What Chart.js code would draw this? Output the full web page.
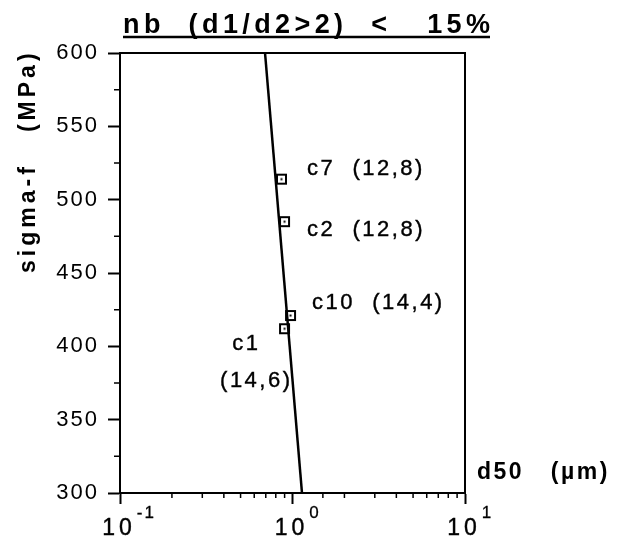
<!DOCTYPE html>
<html>
<head>
<meta charset="utf-8">
<script src="https://cdn.jsdelivr.net/npm/chart.js@4.4.0/dist/chart.umd.min.js"></script>
<style>
  html, body { margin: 0; padding: 0; background: #fff; }
  #wrap { width: 617px; height: 543px; }
</style>
</head>
<body>
<div id="wrap"><canvas id="chart" width="617" height="543"></canvas></div>
<script>
// data
const pointNames = ["c7", "c2", "c10", "c1"];
const pointTags = ["(12,8)", "(12,8)", "(14,4)", "(14,6)"];
const d50Values = [0.863, 0.899, 0.974, 0.899];
const sigmaValues = [514, 485, 421, 412];
const fitD50 = [0.693, 1.135];
const fitSigma = [600, 300];
const xTickPowers = [-1, 0, 1];

const titleText = "nb  (d1/d2>2)  <   15%";
const yTitle = "sigma-f   (MPa)";
const xTitle = "d50   (\u00b5m)";
const FONT = '"Liberation Sans", Arial, Helvetica, sans-serif';

// open square with a dot in the middle
function makeMarker() {
  const c = document.createElement("canvas");
  c.width = 13;
  c.height = 13;
  const g = c.getContext("2d");
  g.strokeStyle = "#000";
  g.lineWidth = 2;
  g.strokeRect(2, 2, 9, 9);
  g.fillStyle = "#000";
  g.fillRect(5.5, 5.5, 2, 2);
  return c;
}

// label placement relative to each point (pixels)
const labelLayout = {
  c7: { dx: 25.5, dy: -10.5, align: "left", inline: true },
  c2: { dx: 22.5, dy: 8.5, align: "left", inline: true },
  c10: { dx: 21.5, dy: -13, align: "left", inline: true },
  c1: { dx: -24, dy: 15, align: "right", inline: false, tagDx: 8, tagDy: 52 },
};

// fill text with a hairline stroke so it reads as heavy as the scan
function heavyText(ctx, txt, x, y, w) {
  ctx.fillText(txt, x, y);
  ctx.lineWidth = w;
  ctx.strokeText(txt, x, y);
}

const decorPlugin = {
  id: "decor",
  beforeDraw(chart) {
    chart.ctx.letterSpacing = "2px";
  },
  afterDraw(chart) {
    const ctx = chart.ctx;
    const area = chart.chartArea;
    const xs = chart.scales.x;
    const ys = chart.scales.y;
    ctx.save();
    ctx.strokeStyle = "#000";
    ctx.fillStyle = "#000";

    // frame
    ctx.lineWidth = 2;
    ctx.strokeRect(area.left, area.top, area.right - area.left, area.bottom - area.top);

    // minor ticks
    ctx.lineWidth = 1.5;
    ctx.beginPath();
    ys.ticks.forEach((t) => {
      if (t.value % 50 !== 0) {
        const py = ys.getPixelForValue(t.value);
        ctx.moveTo(area.left - 6, py);
        ctx.lineTo(area.left, py);
      }
    });
    xs.ticks.forEach((t) => {
      if (!t.major) {
        const px = xs.getPixelForValue(t.value);
        ctx.moveTo(px, area.bottom);
        ctx.lineTo(px, area.bottom + 5);
      }
    });
    ctx.stroke();

    // x tick labels 10^n
    ctx.textBaseline = "alphabetic";
    ctx.textAlign = "left";
    xTickPowers.forEach((p) => {
      const px = xs.getPixelForValue(Math.pow(10, p));
      ctx.font = "23px " + FONT;
      ctx.letterSpacing = "4px";
      const w = ctx.measureText("10").width - 4;
      const left = px - 3 - w / 2;
      heavyText(ctx, "10", left, 535, 0.4);
      ctx.font = "17px " + FONT;
      ctx.letterSpacing = "2px";
      heavyText(ctx, String(p), left + w + 5, 518, 0.3);
    });

    // title, underlined
    ctx.font = "bold 27px " + FONT;
    ctx.letterSpacing = "0px";
    const w0 = ctx.measureText(titleText).width;
    const ls = (367 - w0) / (titleText.length - 1);
    ctx.letterSpacing = ls + "px";
    ctx.fillText(titleText, 123, 33);
    ctx.lineWidth = 2.5;
    ctx.beginPath();
    ctx.moveTo(123, 37);
    ctx.lineTo(490, 37);
    ctx.stroke();

    // axis titles
    ctx.font = "bold 23px " + FONT;
    ctx.letterSpacing = "2.5px";
    ctx.textBaseline = "middle";
    ctx.fillText(xTitle, 477, 473);

    ctx.save();
    ctx.translate(29, 273);
    ctx.rotate(-Math.PI / 2);
    ctx.letterSpacing = "4px";
    ctx.fillText(yTitle, 0, 0);
    ctx.restore();

    // point labels
    ctx.font = "22px " + FONT;
    ctx.letterSpacing = "2.5px";
    ctx.textBaseline = "middle";
    pointNames.forEach((name, i) => {
      const px = xs.getPixelForValue(d50Values[i]);
      const py = ys.getPixelForValue(sigmaValues[i]);
      const lay = labelLayout[name];
      ctx.textAlign = lay.align;
      if (lay.inline) {
        heavyText(ctx, name + "  " + pointTags[i], px + lay.dx, py + lay.dy, 0.4);
      } else {
        heavyText(ctx, name, px + lay.dx, py + lay.dy, 0.4);
        heavyText(ctx, pointTags[i], px + lay.tagDx, py + lay.tagDy, 0.4);
      }
    });

    ctx.restore();
    ctx.letterSpacing = "0px";
  },
};

new Chart(document.getElementById("chart"), {
  type: "scatter",
  data: {
    datasets: [
      {
        label: "samples",
        data: d50Values.map((x, i) => ({ x: x, y: sigmaValues[i] })),
        pointStyle: makeMarker(),
        pointRadius: 6,
        order: 0,
      },
      {
        label: "fit",
        data: fitD50.map((x, i) => ({ x: x, y: fitSigma[i] })),
        showLine: true,
        borderColor: "#000",
        borderWidth: 2.5,
        pointRadius: 0,
        order: 1,
      },
    ],
  },
  options: {
    responsive: false,
    animation: false,
    devicePixelRatio: 1,
    layout: { padding: { left: 0, right: 152, top: 53, bottom: 0 } },
    plugins: {
      legend: { display: false },
      tooltip: { enabled: false },
    },
    scales: {
      x: {
        type: "logarithmic",
        position: "bottom",
        min: 0.1,
        max: 10,
        ticks: { display: false },
        grid: {
          drawOnChartArea: false,
          tickLength: 11,
          tickWidth: 2,
          tickColor: (c) => (c.tick && c.tick.major ? "#000" : "rgba(0,0,0,0)"),
        },
        border: { display: true, color: "#000", width: 2 },
        afterFit: (s) => {
          s.height = 50;
        },
      },
      y: {
        type: "linear",
        min: 300,
        max: 600,
        ticks: {
          stepSize: 25,
          color: "#000",
          padding: 9,
          font: { family: FONT, size: 22 },
          callback: (v) => (v % 50 === 0 ? String(v) : ""),
        },
        grid: {
          drawOnChartArea: false,
          tickLength: 12,
          tickWidth: 2,
          tickColor: (c) => (c.tick && c.tick.value % 50 === 0 ? "#000" : "rgba(0,0,0,0)"),
        },
        border: { display: true, color: "#000", width: 2 },
        afterFit: (s) => {
          s.width = 120;
        },
      },
    },
  },
  plugins: [decorPlugin],
});
</script>
</body>
</html>
